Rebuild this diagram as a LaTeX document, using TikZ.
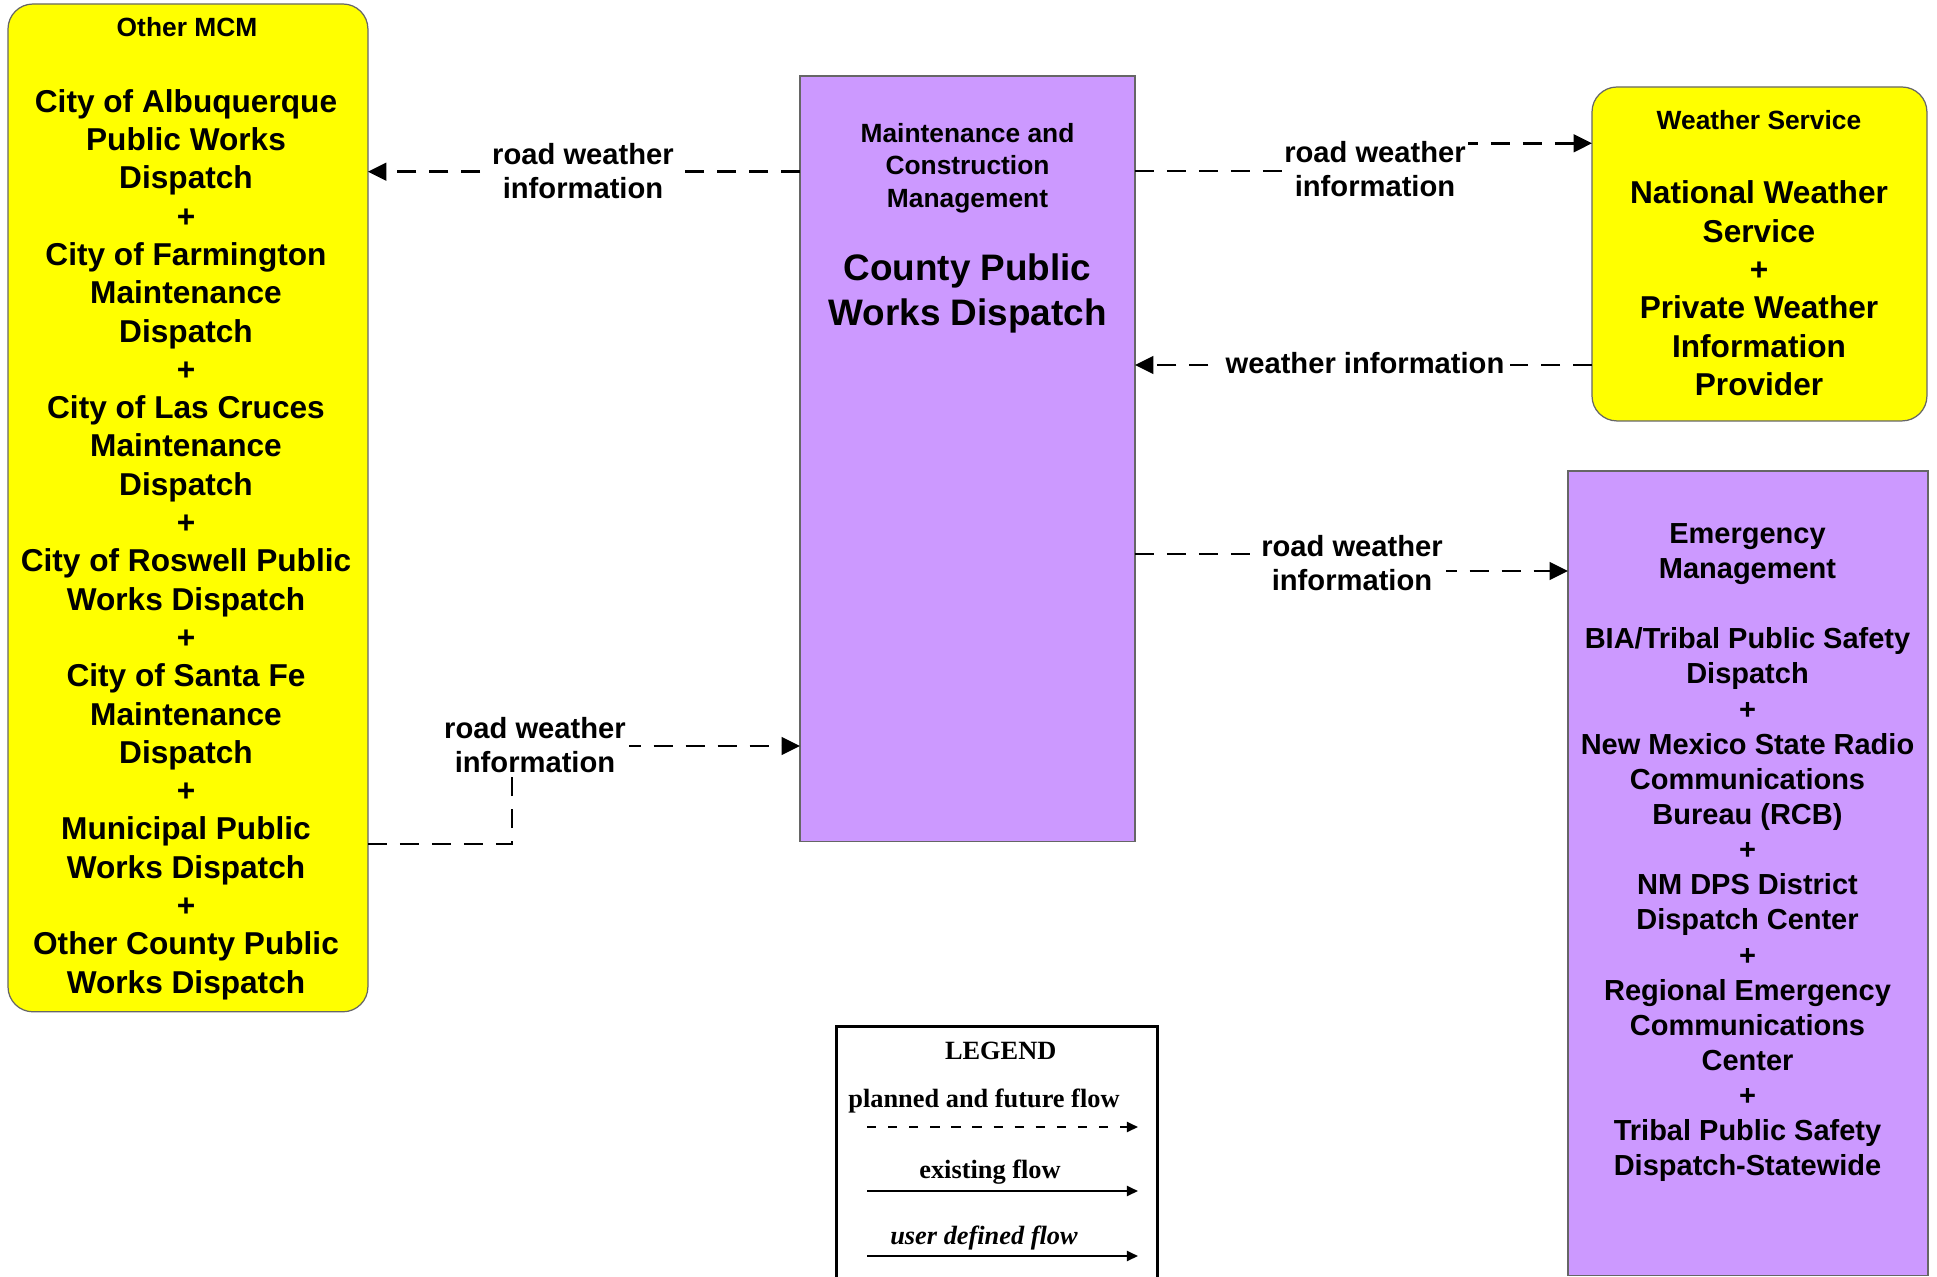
\documentclass[tikz,border=0pt]{standalone}
\usepackage{fontspec}
\setmainfont{Liberation Sans}
\newfontfamily\legfont{Liberation Serif}
\usetikzlibrary{arrows.meta,calc}
\definecolor{boxpurple}{HTML}{CC99FF}
\definecolor{boxyellow}{HTML}{FFFF00}
\newcommand{\myfs}[2]{\fontsize{#1}{#2}\selectfont}
\begin{document}
\begin{tikzpicture}[x=0.02cm,y=-0.02cm,
 ybox/.style={draw=black!60, line width=0.7pt, fill=boxyellow, rounded corners=0.5cm, inner sep=0pt, outer sep=0pt, anchor=north west},
 pbox/.style={draw=black!60, line width=0.7pt, fill=boxpurple, inner sep=0pt, outer sep=0pt, anchor=north west},
 flow/.style={line width=1.6pt, dash pattern=on 10.8pt off 7.4pt, -{Triangle[length=10.5pt,width=10pt]}},
 lbl/.style={fill=white, inner sep=3pt, align=center, font=\bfseries\myfs{16.6}{19.4}},
 body/.style={align=center, inner sep=0pt, font=\bfseries\myfs{18}{21.8}},
 ttl/.style={align=center, inner sep=0pt, font=\bfseries\myfs{15}{18.3}},
 legtxt/.style={anchor=base, inner sep=0pt, font=\legfont\bfseries\myfs{15}{18}},
 legarrow/.style={line width=1.1pt, -{Triangle[length=6.3pt,width=5.7pt]}},
]
\clip (0,0) rectangle (1937,1277);
\fill[white] (0,0) rectangle (1937,1277);

% boxes
\node[ybox, minimum width=7.2cm, minimum height=20.16cm] (mcm) at (8,4) {};
\node[pbox, minimum width=6.7cm, minimum height=15.32cm] (cps) at (800,76) {};
\node[ybox, minimum width=6.7cm, minimum height=6.68cm] (ws) at (1592,87) {};
\node[pbox, minimum width=7.2cm, minimum height=16.1cm] (em) at (1568,471) {};

% box texts
\node[ttl] (mcmttl) at (187,26.7) {Other MCM};
\node[body] (mcmtxt) at (186,544.5) {City of Albuquerque\\Public Works\\Dispatch\\+\\City of Farmington\\Maintenance\\Dispatch\\+\\City of Las Cruces\\Maintenance\\Dispatch\\+\\City of Roswell Public\\Works Dispatch\\+\\City of Santa Fe\\Maintenance\\Dispatch\\+\\Municipal Public\\Works Dispatch\\+\\Other County Public\\Works Dispatch};

\node[ttl] (cpsttl) at (967.5,168.1) {Maintenance and\\Construction\\Management};
\node[body, font=\bfseries\myfs{21}{26}] (cpstxt) at (967.5,293.4) {County Public\\Works Dispatch};

\node[ttl] (wsttl) at (1759,120) {Weather Service};
\node[body] (wstxt) at (1759,288.4) {National Weather\\Service\\+\\Private Weather\\Information\\Provider};

\node[body, font=\bfseries\myfs{16.5}{20}] (emtxt) at (1747.5,852.7) {Emergency\\Management\\[20pt]BIA/Tribal Public Safety\\Dispatch\\+\\New Mexico State Radio\\Communications\\Bureau (RCB)\\+\\NM DPS District\\Dispatch Center\\+\\Regional Emergency\\Communications\\Center\\+\\Tribal Public Safety\\Dispatch-Statewide};

% flows
\draw[flow] ($(cps.north west)+(0,95.7)$) -- ($(mcm.north east)+(0,167.7)$);
\node[lbl] (l1) at (583,171.5) {road weather\\information};

\draw[flow] ($(cps.north east)+(0,95)$) -- ++(240,0) |- ($(ws.north west)+(0,56.3)$);
\node[lbl, inner sep=1pt] (l2) at (1375,169.5) {road weather\\information};

\draw[flow] ($(ws.north west)+(0,278)$) -- ($(cps.north east)+(0,289)$);
\node[lbl] (l3) at (1365,363) {weather information};

\draw[flow] ($(cps.north east)+(0,478)$) -- ++(217,0) |- ($(em.north west)+(0,100)$);
\node[lbl, inner sep=2pt] (l4) at (1352,563.5) {road weather\\information};

\draw[flow] ($(mcm.north east)+(0,840)$) -- ++(144,0) |- ($(cps.north west)+(0,670)$);
\node[lbl, inner sep=2pt] (l5) at (535,745.5) {road weather\\information};

% legend
\node[draw, line width=1.7pt, minimum width=6.42cm, minimum height=6cm, anchor=north west, inner sep=0pt] (legend) at (835,1025) {};
\node[legtxt] (legttl) at (1000.7,1059.3) {LEGEND};
\node[legtxt] (legpl) at (984,1107.3) {planned and future flow};
\draw[legarrow, dash pattern=on 5.3pt off 6.7pt] ($(legend.north west)+(32,102)$) -- ($(legend.north west)+(303,102)$);
\node[legtxt] (legex) at (990,1178.3) {existing flow};
\draw[legarrow] ($(legend.north west)+(32,166)$) -- ($(legend.north west)+(303,166)$);
\node[legtxt, font=\legfont\bfseries\itshape\myfs{15}{18}] (legud) at (984,1244) {user defined flow};
\draw[legarrow] ($(legend.north west)+(32,231)$) -- ($(legend.north west)+(303,231)$);
\end{tikzpicture}
\end{document}
